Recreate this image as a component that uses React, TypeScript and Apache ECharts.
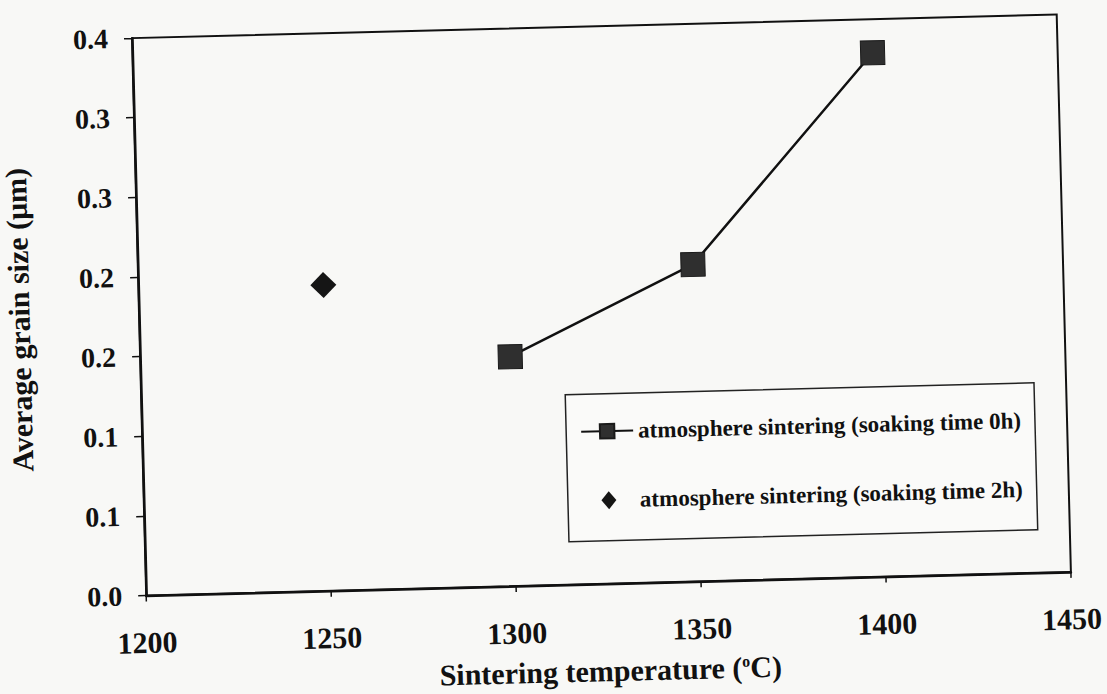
import { useEffect, useRef } from "react";
import * as echarts from "echarts";

// ---- data ----
const xTicks = [1200, 1250, 1300, 1350, 1400, 1450];
const yTickLabels = ["0.0", "0.1", "0.1", "0.2", "0.2", "0.3", "0.3", "0.4"];
const yStep = 0.05;
const temps0h = [1300, 1350, 1400];
const grain0h = [0.144, 0.199, 0.329];
const temps2h = [1250];
const grain2h = [0.192];
const seriesNames = [
  "atmosphere sintering (soaking time 0h)",
  "atmosphere sintering (soaking time 2h)",
];
const xTitleParts = ["Sintering temperature (", "o", "C)"];
const yTitle = "Average grain size (μm)";

const FONT = '"Liberation Serif", "Times New Roman", serif';
// legend icon: a small diamond centred in a 52 x 18 box
const DIAMOND_ICON = "path://M0 0 M52 18 M26 0 L33.5 9 L26 18 L18.5 9 Z";

export default function App() {
  const ref = useRef<HTMLDivElement>(null);

  useEffect(() => {
    if (!ref.current) return;
    const chart = echarts.init(ref.current, undefined, { renderer: "svg" });
    const yMax = yStep * (yTickLabels.length - 1);
    chart.setOption({
      animation: false,
      backgroundColor: "transparent",
      grid: {
        left: 140,
        right: 42,
        top: 27.5,
        bottom: 109,
        show: true,
        borderColor: "#111",
        borderWidth: 2,
        containLabel: false,
        outerBoundsMode: "none",
      },
      legend: {
        left: 564,
        top: 395,
        orient: "vertical",
        backgroundColor: "rgba(255,255,255,0.3)",
        borderColor: "#222",
        borderWidth: 1.5,
        padding: [26, 14, 29, 14],
        itemGap: 46,
        itemWidth: 52,
        itemHeight: 18,
        textStyle: {
          fontFamily: FONT,
          fontWeight: "bold",
          fontSize: 23,
          color: "#111",
        },
        data: [
          { name: seriesNames[0] },
          { name: seriesNames[1], icon: DIAMOND_ICON },
        ],
      },
      xAxis: {
        type: "value",
        min: xTicks[0],
        max: xTicks[xTicks.length - 1],
        interval: xTicks[1] - xTicks[0],
        name: `{t|${xTitleParts[0]}}{sup|${xTitleParts[1]}}{t|${xTitleParts[2]}}`,
        nameLocation: "middle",
        nameGap: 73,
        nameTextStyle: {
          rich: {
            t: { fontFamily: FONT, fontWeight: "bold", fontSize: 30, color: "#111", lineHeight: 28 },
            sup: { fontFamily: FONT, fontWeight: "bold", fontSize: 16, color: "#111", verticalAlign: "top", lineHeight: 28, padding: [0, 0, 12, 0] },
          },
        },
        axisLine: { show: true, lineStyle: { color: "#111", width: 2.5 } },
        axisTick: { show: true, inside: false, length: 6, lineStyle: { color: "#111", width: 1.5 } },
        splitLine: { show: false },
        axisLabel: {
          margin: 32,
          fontFamily: FONT,
          fontWeight: "bold",
          fontSize: 30,
          color: "#111",
          formatter: (v: number) => String(v),
        },
      },
      yAxis: {
        type: "value",
        min: 0,
        max: yMax,
        interval: yStep,
        name: yTitle,
        nameLocation: "middle",
        nameGap: 105,
        nameTextStyle: {
          fontFamily: FONT,
          fontWeight: "bold",
          fontSize: 30,
          color: "#111",
        },
        axisLine: { show: true, lineStyle: { color: "#111", width: 2.5 } },
        axisTick: { show: true, inside: false, length: 8, lineStyle: { color: "#111", width: 1.5 } },
        splitLine: { show: false },
        axisLabel: {
          margin: 24,
          fontFamily: FONT,
          fontWeight: "bold",
          fontSize: 28,
          color: "#111",
          formatter: (v: number) => yTickLabels[Math.round(v / yStep)] ?? "",
        },
      },
      series: [
        {
          name: seriesNames[0],
          type: "line",
          data: temps0h.map((t, i) => [t, grain0h[i]]),
          symbol: "rect",
          symbolSize: 24,
          itemStyle: { color: "#2f2f2f", borderColor: "#1a1a1a", borderWidth: 1, opacity: 1 },
          lineStyle: { color: "#111", width: 2.5 },
          z: 3,
        },
        {
          name: seriesNames[1],
          type: "scatter",
          data: temps2h.map((t, i) => [t, grain2h[i]]),
          symbol: "diamond",
          symbolSize: 26,
          itemStyle: { color: "#151515", opacity: 1 },
          z: 3,
        },
      ],
    });
    return () => chart.dispose();
  }, []);

  return (
    <div
      style={{
        position: "fixed",
        left: 0,
        top: 0,
        width: 1107,
        height: 694,
        background: "#f8f8f6",
        overflow: "hidden",
      }}
    >
      <div
        ref={ref}
        style={{
          position: "absolute",
          left: 0,
          top: 0,
          width: 1107,
          height: 694,
          transform: "rotate(-1.46deg)",
          transformOrigin: "553.5px 347px",
        }}
      />
    </div>
  );
}
